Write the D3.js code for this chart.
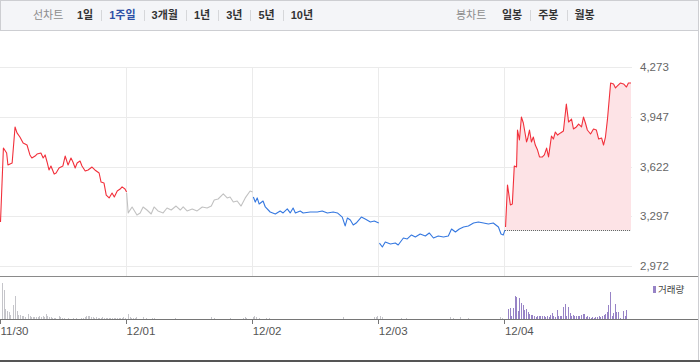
<!DOCTYPE html>
<html>
<head>
<meta charset="utf-8">
<script src="https://cdn.jsdelivr.net/npm/d3@7"></script>
<style>
  body { margin: 0; background: #fff; }
  svg { display: block; font-family: "Liberation Sans", "Noto Sans CJK KR", sans-serif; }
</style>
</head>
<body>
<svg id="chart" width="700" height="362"></svg>
<script>
// header buttons
const lineChartTitle = '선차트';
const rangeLabels = ['1일', '1주일', '3개월', '1년', '3년', '5년', '10년'];
const activeRange = '1주일';
const candleTitle = '봉차트';
const candleLabels = ['일봉', '주봉', '월봉'];

// x axis (one trading day = 390 minutes, 09:00 - 15:30)
const dateLabels = ['11/30', '12/01', '12/02', '12/03', '12/04'];
const priceTicks = [2972, 3297, 3622, 3947, 4273];
const prevClose1129 = 3240;

// [minutes since open, price]
const day1130 = [[0,3260],[9,3743],[19,3711],[23,3632],[36,3645],[45,3881],[51,3842],[60,3815],[70,3776],[82,3763],
  [91,3698],[97,3678],[107,3691],[113,3704],[125,3711],[132,3678],[138,3698],[144,3652],[150,3600],[156,3626],
  [166,3573],[172,3580],[181,3613],[193,3626],[200,3691],[209,3632],[218,3678],[224,3652],[231,3613],[237,3645],
  [246,3658],[252,3626],[262,3593],[271,3600],[283,3619],[292,3600],[305,3580],[311,3521],[320,3515],[327,3436],
  [336,3417],[345,3449],[352,3423],[361,3462],[370,3475],[376,3489],[385,3475],[390,3456]];
const day1201 = [[0,3449],[5,3319],[17,3358],[32,3305],[42,3319],[51,3358],[63,3338],[76,3312],[85,3358],[97,3332],
  [113,3319],[125,3351],[138,3338],[153,3364],[166,3338],[175,3358],[187,3332],[203,3345],[218,3332],[234,3358],
  [249,3351],[262,3364],[271,3403],[283,3410],[299,3443],[311,3417],[320,3423],[330,3390],[342,3397],[354,3364],
  [367,3417],[382,3462],[390,3456]];
const day1202 = [[2,3423],[8,3390],[14,3417],[20,3377],[32,3397],[39,3358],[54,3325],[70,3312],[85,3332],[94,3319],
  [107,3345],[116,3319],[125,3351],[132,3319],[147,3332],[156,3319],[178,3325],[200,3325],[215,3332],[231,3319],
  [249,3325],[262,3319],[277,3292],[286,3234],[293,3286],[302,3273],[311,3240],[320,3253],[336,3292],[348,3279],
  [364,3260],[376,3266],[390,3253]];
const day1203 = [[2,3122],[11,3096],[20,3129],[36,3116],[51,3122],[60,3109],[76,3155],[88,3149],[101,3175],[113,3162],
  [128,3181],[144,3168],[156,3188],[169,3155],[184,3168],[200,3162],[215,3168],[225,3214],[237,3194],[249,3214],
  [262,3227],[277,3234],[293,3253],[308,3260],[324,3253],[339,3247],[354,3253],[370,3227],[378,3181],[385,3175],
  [390,3207]];
const day1204 = [[2,3227],[8,3502],[17,3371],[23,3377],[29,3626],[36,3619],[39,3861],[45,3796],[51,3946],[57,3907],
  [67,3783],[70,3802],[76,3861],[82,3783],[88,3815],[94,3763],[101,3730],[107,3685],[116,3685],[122,3698],
  [129,3743],[135,3685],[144,3822],[150,3802],[156,3848],[163,3828],[172,3842],[181,3855],[190,4031],[197,3913],
  [206,3933],[212,3868],[221,3881],[228,3900],[237,3881],[243,3946],[249,3907],[255,3861],[265,3835],[274,3868],
  [283,3861],[290,3802],[299,3809],[305,3763],[311,3815],[317,3927],[327,4168],[336,4162],[342,4136],[348,4149],
  [357,4168],[367,4162],[376,4142],[382,4168],[390,4168]];

// volume, 5 minute bins (78 per day)
const vol1130 = [0,360,290,100,80,70,40,0,140,230, 80,40,40,30,30,20,0,50,30,20, 20,20,20,20,30,20,30,20,50,30,
  20,20,10,10,10,0,30,20,10,10, 0,0,10,0,0,10,0,10,0,0, 10,10,20,30,30,30,20,20,10,20, 10,10,10,20,10,10,10,10,10,10,
  10,10,10,10,10,10,20,10];
const vol1201 = [0,50,20,10,10,10,20,0,0,0, 20,0,10,0,0,0,10,10,0,0, 0,0,0,0,0,0,0,0,0,0, 10,0,0,0,0,0,0,0,0,0,
  0,0,0,0,0,0,0,0,0,0, 0,0,20,0,10,0,0,0,0,0, 0,0,0,0,10,0,0,0,0,0, 0,0,10,20,10,0,0,0];
const vol1202 = [20,30,20,0,10,0,0,0,10,0, 10,0,0,0,0,0,0,0,0,0, 0,0,0,0,0,0,0,0,0,0, 0,0,0,0,0,0,0,0,0,0,
  0,0,0,0,0,0,0,0,0,0, 0,0,0,0,0,0,20,0,0,0, 0,0,0,0,0,0,0,0,0,0, 0,0,0,0,0,20,20,30];
const vol1203 = [0,30,20,0,0,0,0,0,0,0, 0,0,0,0,10,0,0,10,0,0, 0,0,0,0,0,0,0,0,0,0, 0,0,0,0,0,0,0,0,0,0,
  0,0,0,0,20,0,10,0,0,0, 20,0,0,0,0,10,0,0,0,0, 0,0,0,0,0,0,0,0,0,0, 0,0,0,0,0,20,10,0];
const vol1204 = [0,0,100,110,30,110,230,220,80,210, 160,140,90,100,70,50,40,40,30,20, 30,30,30,30,30,20,30,20,40,60,
  30,20,90,30,30,30,120,150,30,120, 60,30,40,30,30,30,30,40,50,50, 20,30,20,10,20,10,20,20,30,20,
  30,40,50,70,140,270,30,60,150,70, 70,10,0,80,30,90,0,0];

const days = [day1130, day1201, day1202, day1203, day1204];
const volumes = [vol1130, vol1201, vol1202, vol1203, vol1204];

const RED = '#f2303b', BLUE = '#3578e0', GRAY = '#c2c2c2';
const DAY = 390;

let svg = d3.select('#chart');

let x = d3.scaleLinear().domain([0, DAY * days.length]).range([0.5, 631]);
let y = d3.scaleLinear().domain([priceTicks[0], priceTicks[priceTicks.length - 1]]).range([266, 67]);
let yVol = d3.scaleLinear().domain([0, 360]).range([319, 283]);

// ---- header ----
svg.append('rect')
    .attr('x', 0.5).attr('y', 0.5)
    .attr('width', 698).attr('height', 30)
    .attr('fill', '#f4f5f8')
    .attr('stroke', '#cdced2');

function buttonGroup(title, titleX, labels, startX, active) {
    let g = svg.append('g').attr('font-size', '11px');
    g.append('text')
        .attr('x', titleX).attr('y', 19)
        .attr('fill', '#8c8c8c')
        .text(title);
    let cx = startX;
    labels.forEach((lab, i) => {
        let t = g.append('text')
            .attr('x', cx).attr('y', 19)
            .attr('font-weight', 'bold')
            .attr('fill', lab === active ? '#2d4fa6' : '#333')
            .text(lab);
        let w = t.node().getComputedTextLength();
        if (i < labels.length - 1) {
            g.append('line')
                .attr('x1', Math.round(cx + w + 8) + 0.5).attr('x2', Math.round(cx + w + 8) + 0.5)
                .attr('y1', 10).attr('y2', 21)
                .attr('stroke', '#d6d7da');
        }
        cx += w + 16;
    });
}
buttonGroup(lineChartTitle, 33, rangeLabels, 77, activeRange);
buttonGroup(candleTitle, 456, candleLabels, 502, null);

// ---- grid ----
svg.append('g')
    .selectAll('line')
    .data(priceTicks)
    .enter()
    .append('line')
    .attr('x1', 0).attr('x2', 632)
    .attr('y1', d => Math.round(y(d)) + 0.5)
    .attr('y2', d => Math.round(y(d)) + 0.5)
    .attr('stroke', '#ebebeb');

svg.append('g')
    .selectAll('line')
    .data(d3.range(1, days.length))
    .enter()
    .append('line')
    .attr('x1', d => Math.floor(x(d * DAY)) + 0.5)
    .attr('x2', d => Math.floor(x(d * DAY)) + 0.5)
    .attr('y1', 67).attr('y2', 276)
    .attr('stroke', '#ebebeb');

// price labels
svg.append('g')
    .selectAll('text')
    .data(priceTicks)
    .enter()
    .append('text')
    .attr('x', 640)
    .attr('y', d => y(d))
    .attr('dy', '0.35em')
    .attr('font-size', '11.5px')
    .attr('fill', '#666')
    .text(d3.format(','));

// ---- price lines ----
let closes = days.map(d => d[d.length - 1][1]);
let lastPrev = closes[closes.length - 2];

let area = d3.area()
    .x(d => x((days.length - 1) * DAY + d[0]))
    .y0(y(lastPrev))
    .y1(d => y(d[1]));

svg.append('path')
    .datum(day1204)
    .attr('d', area)
    .attr('fill', '#fde3e6');

svg.append('line')
    .attr('x1', x((days.length - 1) * DAY)).attr('x2', x(days.length * DAY))
    .attr('y1', Math.round(y(lastPrev)) + 0.5)
    .attr('y2', Math.round(y(lastPrev)) + 0.5)
    .attr('stroke', '#555')
    .attr('stroke-dasharray', '1,1');

days.forEach((pts, i) => {
    let prev = i === 0 ? prevClose1129 : closes[i - 1];
    let color = closes[i] > prev ? RED : closes[i] < prev ? BLUE : GRAY;
    let line = d3.line()
        .x(d => x(i * DAY + d[0]))
        .y(d => y(d[1]));
    svg.append('path')
        .datum(pts)
        .attr('d', line)
        .attr('fill', 'none')
        .attr('stroke', color)
        .attr('stroke-width', 1.1)
        .attr('stroke-linejoin', 'round');
});

// ---- volume panel ----
svg.append('line')
    .attr('x1', 0).attr('x2', 698)
    .attr('y1', 276.5).attr('y2', 276.5)
    .attr('stroke', '#8a8a8a');

volumes.forEach((vals, i) => {
    let color = i === volumes.length - 1 ? '#9783c6' : '#c5c5ca';
    svg.append('g')
        .selectAll('rect')
        .data(vals.map((v, k) => [k * 5, v]).filter(d => d[1] > 0))
        .enter()
        .append('rect')
        .attr('x', d => Math.round(x(i * DAY + d[0])))
        .attr('width', 1)
        .attr('y', d => yVol(d[1]))
        .attr('height', d => yVol(0) - yVol(d[1]))
        .attr('fill', color);
});

svg.append('line')
    .attr('x1', 0).attr('x2', 698)
    .attr('y1', 319.5).attr('y2', 319.5)
    .attr('stroke', '#767676');

let xAxis = d3.axisBottom(x)
    .tickValues(dateLabels.map((d, i) => i * DAY))
    .tickFormat((d, i) => dateLabels[i])
    .tickSize(5)
    .tickPadding(3)
    .offset(0);

let axisG = svg.append('g')
    .attr('transform', 'translate(0,319)')
    .call(xAxis);
axisG.select('.domain').remove();
axisG.selectAll('.tick line')
    .attr('stroke', '#767676')
    .attr('transform', d => 'translate(' + (Math.floor(x(d)) + 0.5 - x(d)) + ',0)');
axisG.selectAll('.tick text')
    .attr('text-anchor', 'start')
    .attr('font-size', '11.5px')
    .attr('font-family', '"Liberation Sans", sans-serif')
    .attr('fill', '#555');

// legend
svg.append('rect')
    .attr('x', 653).attr('y', 286)
    .attr('width', 3).attr('height', 7)
    .attr('fill', '#9783c6');
svg.append('text')
    .attr('x', 658).attr('y', 290)
    .attr('dy', '0.35em')
    .attr('font-size', '9.5px')
    .attr('fill', '#444')
    .text('거래량');

// frame
svg.append('line')
    .attr('x1', 698.5).attr('x2', 698.5)
    .attr('y1', 0).attr('y2', 360)
    .attr('stroke', '#cdced2');
svg.append('rect')
    .attr('x', 0).attr('y', 360)
    .attr('width', 700).attr('height', 2)
    .attr('fill', '#555');
</script>
</body>
</html>
